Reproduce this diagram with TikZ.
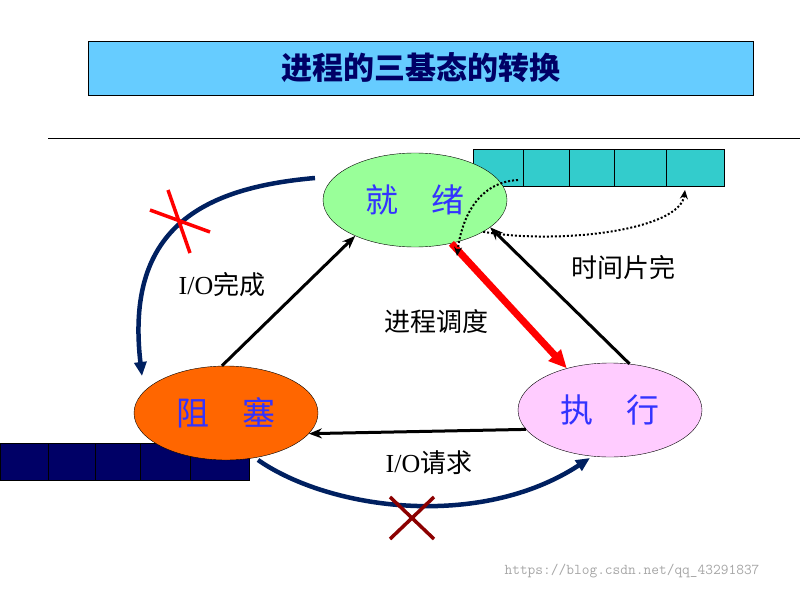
\documentclass[tikz,border=0pt]{standalone}
\usepackage{fontspec}
\setmainfont{Liberation Serif}
\newfontfamily\cjk{Noto Sans CJK SC}
\usetikzlibrary{shapes.geometric,positioning,arrows.meta,calc}
\definecolor{titleblue}{HTML}{66CCFF}
\definecolor{readygreen}{HTML}{99FF99}
\definecolor{blockorange}{HTML}{FF6600}
\definecolor{runpink}{HTML}{FFCCFF}
\definecolor{queuecyan}{HTML}{33CCCC}
\definecolor{queuenavy}{HTML}{000066}
\definecolor{textblue}{HTML}{3333FF}
\definecolor{curvenavy}{HTML}{002060}
\tikzset{
	state/.style={ellipse, draw, minimum width=184pt, minimum height=94pt, font=\cjk\fontsize{33}{35}\selectfont, text=textblue},
	lbl/.style={font=\fontsize{26}{28}\selectfont},
	flow/.style={-{Stealth[length=13pt,width=10pt]}, line width=3pt},
	dots/.style={dotted, line width=2pt, -{Stealth[length=9pt,width=8pt]}}
}
\begin{document}
\begin{tikzpicture}[x=1pt,y=-1pt]
	\useasboundingbox (0,0) rectangle (808,591);

	% title and rule
	\node[draw, fill=titleblue, minimum width=665pt, minimum height=54pt, font=\cjk\bfseries\fontsize{31}{33}\selectfont, text=queuenavy] (title) at (420.5,68) {进程的三基态的转换};
	\draw[line width=0.8pt] (48,138) -- (800,138);

	% queues
	\foreach \a/\b in {473/523,523/569,569/614,614/666,666/724}
		\draw[fill=queuecyan] (\a,149) rectangle (\b,186);
	\foreach \a/\b in {0/48,48/95,95/140,140/190,190/249}
		\draw[fill=queuenavy] (\a,443) rectangle (\b,480);

	% states
	\node[state, fill=readygreen] (ready) at (415,200) {就\quad 绪};
	\node[state, fill=blockorange] (block) at (226,413) {阻\quad 塞};
	\node[state, fill=runpink] (run) at (610,410) {执\quad 行};

	% transitions
	\draw[flow] (block.95) -- (ready.211);
	\draw[flow] (run.67) -- (ready.-20);
	\draw[flow] (run.193) -- (block.-14);
	\draw[-{Triangle[length=18pt,width=16pt]}, red, line width=7pt] (ready.-50) -- (run.136);

	\node[lbl] (done) at (222,285) {I/O{\cjk 完成}};
	\node[lbl] (sched) at (436,322) {\cjk 进程调度};
	\node[lbl] (slice) at (623,268) {\cjk 时间片完};
	\node[lbl] (req) at (429,463) {I/O{\cjk 请求}};

	% forbidden transitions
	\coordinate (topend) at (315,178);
	\coordinate (leftend) at (142,376);
	\coordinate (botstart) at (258,460);
	\coordinate (botend) at (590,458);
	\draw[-{Triangle[length=14pt,width=12pt]}, curvenavy, line width=4.5pt] (topend) .. controls (200,188) and (125,230) .. (leftend);
	\draw[-{Triangle[length=14pt,width=12pt]}, curvenavy, line width=4.5pt] (botstart) .. controls (330,510) and (480,530) .. (botend);
	\draw[red, line width=3.5pt] (150,210) -- (210,232) (168,190) -- (190,253);
	\draw[red!55!black, line width=3.5pt] (390,497) -- (434,539) (434,497) -- (390,539);

	% time slice back to the queue
	\coordinate (qhead) at (518,180);
	\coordinate (qtail) at (685,190);
	\coordinate (qdrop) at (457,256);
	\draw[dots] (qhead) .. controls (480,182) and (462,215) .. (qdrop);
	\draw[dots] (ready.-25) .. controls (560,245) and (680,230) .. (qtail);

	\node[text=gray!70, font=\ttfamily\fontsize{15}{16}\selectfont] (mark) at (632,571) {https://blog.csdn.net/qq\_43291837};
\end{tikzpicture}
\end{document}
